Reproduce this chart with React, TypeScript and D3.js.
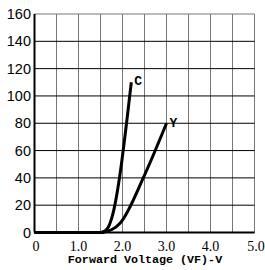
import React from 'react';
import * as d3 from 'd3';

// forward voltage (V) vs forward current (mA)
const cVolts = [0, 1.5, 1.6, 1.68, 1.75, 2.2];
const cCurrent = [0, 0, 1, 4, 10, 110];
const yVolts = [0, 1.5, 1.6, 1.75, 1.95, 2.5, 3.0];
const yCurrent = [0, 0, 0.5, 2, 7, 42, 80];

const xTicks = [0, 1, 2, 3, 4, 5];
const xTickLabels = ['0', '1.0', '2.0', '3.0', '4.0', '5.0'];
const yTicks = [0, 20, 40, 60, 80, 100, 120, 140, 160];
const xGrid = d3.range(0, 5.01, 0.5);

const App = () => {
  const width = 265;
  const height = 270;
  const margin = { top: 14, right: 10.5, bottom: 37.5, left: 34.5 };

  const x = d3.scaleLinear().domain([0, 5]).range([margin.left, width - margin.right]);
  const y = d3.scaleLinear().domain([0, 160]).range([height - margin.bottom, margin.top]);

  const line = d3.line<[number, number]>()
    .x(d => x(d[0]))
    .y(d => y(d[1]))
    .curve(d3.curveMonotoneX);

  const cPts = cVolts.map((v, i) => [v, cCurrent[i]] as [number, number]);
  const yPts = yVolts.map((v, i) => [v, yCurrent[i]] as [number, number]);

  const monoBold = { fontFamily: '"Liberation Mono", monospace', fontWeight: 'bold' as const };

  return (
    <svg width={width} height={height} style={{ position: 'absolute', left: 0, top: 0, background: '#fff' }}>
      {/* vertical grid */}
      {xGrid.map(v => (
        <line key={'v' + v} x1={x(v)} x2={x(v)} y1={y(0)} y2={y(160)} stroke="#777" strokeWidth={1} />
      ))}
      {/* horizontal grid */}
      {yTicks.map(t => (
        <line key={'h' + t} x1={x(0)} x2={x(5)} y1={y(t)} y2={y(t)} stroke={t === 160 ? '#777' : '#000'} strokeWidth={1} />
      ))}
      {/* axes */}
      <line x1={x(0)} x2={x(0)} y1={y(0)} y2={y(160)} stroke="#000" strokeWidth={2} />
      <line x1={x(0)} x2={x(5)} y1={y(0)} y2={y(0)} stroke="#000" strokeWidth={2} />

      {/* y tick labels */}
      {yTicks.map(t => (
        <text key={'yl' + t} x={31} y={y(t) + 5} textAnchor="end"
          style={{ fontFamily: '"Liberation Sans", sans-serif', fontSize: 14.5 }}>
          {t}
        </text>
      ))}
      {/* x tick labels */}
      {xTicks.map((t, i) => (
        <text key={'xl' + t} x={x(t) + (i === 0 ? 1.5 : i === 5 ? 1.5 : 0)} y={251} textAnchor="middle"
          style={{ fontFamily: '"Liberation Serif", serif', fontSize: 14 }}>
          {xTickLabels[i]}
        </text>
      ))}
      <text x={(x(0) + x(5)) / 2 + 0.5} y={262.5} textAnchor="middle" style={{ ...monoBold, fontSize: 11.7 }}>
        Forward Voltage (VF)-V
      </text>

      {/* curves */}
      <path d={line(cPts) ?? ''} fill="none" stroke="#000" strokeWidth={3} />
      <path d={line(yPts) ?? ''} fill="none" stroke="#000" strokeWidth={3} />
      <text x={x(2.2) + 3} y={y(110) + 3} style={{ ...monoBold, fontSize: 13 }}>C</text>
      <text x={x(3.0) + 3} y={y(80) + 4} style={{ ...monoBold, fontSize: 13 }}>Y</text>
    </svg>
  );
};

export default App;
